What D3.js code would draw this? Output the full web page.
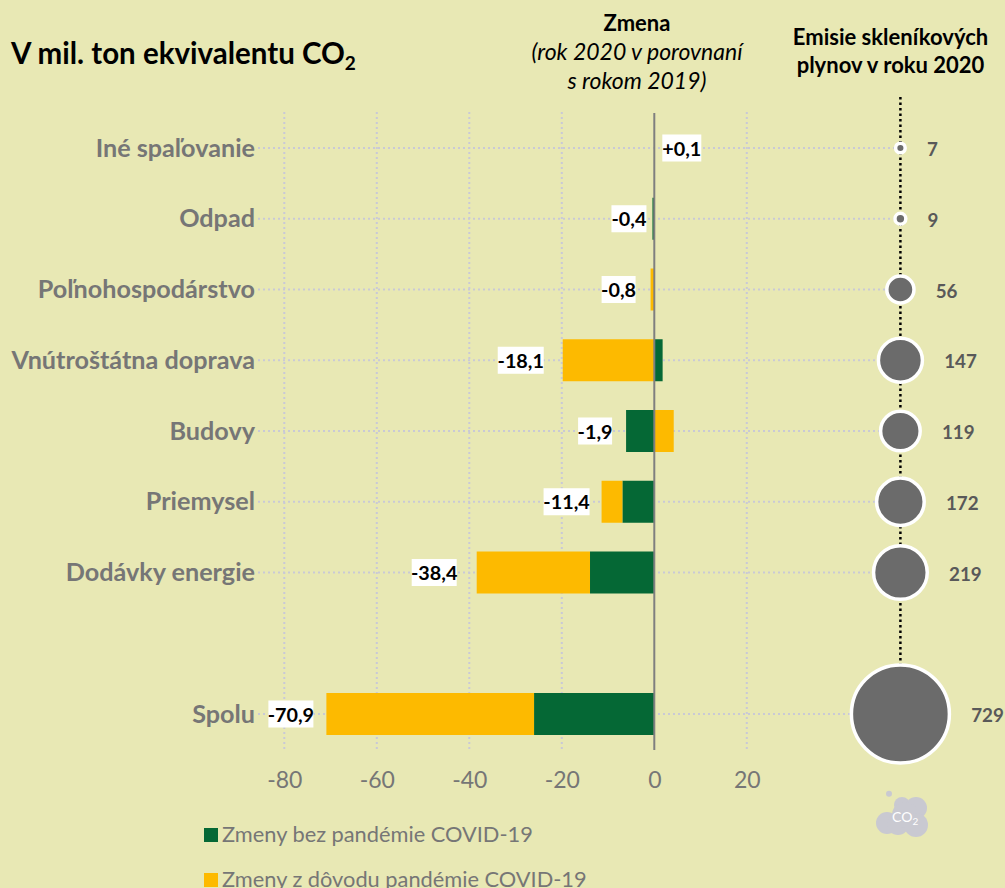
<!DOCTYPE html>
<html lang="sk">
<head>
<meta charset="utf-8">
<title>Emisie</title>
<script src="https://cdn.jsdelivr.net/npm/d3@7"></script>
<style>
    html, body { margin: 0; padding: 0; background: #e8e8b4; overflow: hidden; }
    svg { display: block; }
    text { font-family: Lato, "Open Sans", sans-serif; }
</style>
</head>
<body>
<div id="chart"></div>
<script>
// data
const categories = ["Iné spaľovanie", "Odpad", "Poľnohospodárstvo", "Vnútroštátna doprava", "Budovy", "Priemysel", "Dodávky energie", "Spolu"];
const withoutCovid = [0, -0.4, 0, 1.8, -6.1, -6.9, -13.9, -26.0];
const dueToCovid = [0.1, 0, -0.8, -19.8, 4.2, -4.5, -24.5, -44.9];
const changeLabels = ["+0,1", "-0,4", "-0,8", "-18,1", "-1,9", "-11,4", "-38,4", "-70,9"];
const emissions = [7, 9, 56, 147, 119, 172, 219, 729];
const xTicks = [-80, -60, -40, -20, 0, 20];
const legendLabels = ["Zmeny bez pandémie COVID-19", "Zmeny z dôvodu pandémie COVID-19"];

const width = 1005, height = 888;
const colors = { bg: "#e8e8b4", green: "#056835", yellow: "#fdba00", gray: "#767676", grid: "#c9c9d6", bubble: "#6b6b6b", cloud: "#c9c9d1" };

const svg = d3.select("#chart").append("svg")
    .attr("width", width)
    .attr("height", height);

svg.append("rect").attr("width", width).attr("height", height).attr("fill", colors.bg);

const x = d3.scaleLinear().domain([-80, 20]).range([284.3, 746.8]);

// blank slot before the total row
const rowDomain = [...categories.slice(0, 7), " ", categories[7]];
const y = d3.scalePoint().domain(rowDomain).range([148, 714]);

const bubbleX = 900.4;
const r = d3.scaleSqrt().domain([0, 729]).range([0, 49]);
const bubbleStroke = 3.5;

// gridlines
const grid = svg.append("g")
    .attr("stroke", colors.grid)
    .attr("stroke-width", 2)
    .attr("stroke-dasharray", "2 3");

grid.selectAll(".v")
    .data(xTicks.filter(d => d !== 0))
    .join("line")
    .attr("x1", d => x(d)).attr("x2", d => x(d))
    .attr("y1", 112).attr("y2", 750);

grid.selectAll(".h")
    .data(categories)
    .join("line")
    .attr("x1", 258).attr("x2", bubbleX)
    .attr("y1", d => y(d)).attr("y2", d => y(d));

// stacked bars
const rows = categories.map((c, i) => ({ category: c, without: withoutCovid[i], due: dueToCovid[i] }));
const stacked = d3.stack()
    .keys(["without", "due"])
    .offset(d3.stackOffsetDiverging)(rows);

const barHeight = 42;
svg.append("g")
    .selectAll("g")
    .data(stacked)
    .join("g")
    .attr("fill", d => d.key === "without" ? colors.green : colors.yellow)
    .selectAll("rect")
    .data(d => d)
    .join("rect")
    .attr("x", d => x(Math.min(d[0], d[1])))
    .attr("width", d => Math.abs(x(d[1]) - x(d[0])))
    .attr("y", d => y(d.data.category) - barHeight / 2)
    .attr("height", barHeight);

// zero line
svg.append("line")
    .attr("x1", x(0)).attr("x2", x(0))
    .attr("y1", 113).attr("y2", 750)
    .attr("stroke", "#7f7f7f")
    .attr("stroke-width", 2);

// x axis, only the labels are visible
const axis = svg.append("g")
    .attr("transform", "translate(0,769)")
    .call(d3.axisBottom(x).tickValues(xTicks).tickFormat(d => d).tickSize(0));
axis.select(".domain").remove();
axis.selectAll("text")
    .attr("fill", colors.gray)
    .style("font-size", "23px");

// category labels
svg.append("g")
    .selectAll("text")
    .data(categories)
    .join("text")
    .attr("x", 255)
    .attr("y", d => y(d) + 8.5)
    .attr("text-anchor", "end")
    .attr("fill", colors.gray)
    .attr("font-weight", 700)
    .attr("font-size", 25.2)
    .text(d => d);

// gap between the bar end and the white label, placed by hand in the original
const labelGap = [8, 6, 15, 19, 14, 12, 20, 13];
const labelBoxW = [39, 35, 34, 46, 34, 46, 45, 45];

const labels = svg.append("g")
    .selectAll("g")
    .data(rows)
    .join("g")
    .attr("transform", (d, i) => {
        const low = Math.min(0, d.without, d.due, d.without + d.due);
        const right = i === 0 ? x(0) + labelGap[i] + labelBoxW[i] : x(low) - labelGap[i];
        return `translate(${right - labelBoxW[i]},${y(d.category) - 13.5})`;
    });

labels.append("rect")
    .attr("width", (d, i) => labelBoxW[i])
    .attr("height", 27)
    .attr("fill", "#fff");

labels.append("text")
    .attr("x", (d, i) => labelBoxW[i] / 2)
    .attr("y", 21)
    .attr("text-anchor", "middle")
    .attr("font-weight", 700)
    .attr("font-size", 19.8)
    .attr("fill", "#000")
    .text((d, i) => changeLabels[i]);

// bubble column
svg.append("line")
    .attr("x1", bubbleX).attr("x2", bubbleX)
    .attr("y1", 97).attr("y2", 668)
    .attr("stroke", "#000")
    .attr("stroke-width", 2.5)
    .attr("stroke-dasharray", "2.5 3");

svg.append("g")
    .selectAll("circle")
    .data(emissions)
    .join("circle")
    .attr("cx", bubbleX)
    .attr("cy", (d, i) => y(categories[i]))
    .attr("r", d => r(d))
    .attr("fill", colors.bubble)
    .attr("stroke", "#fff")
    .attr("stroke-width", bubbleStroke);

svg.append("g")
    .selectAll("text")
    .data(emissions)
    .join("text")
    .attr("x", d => bubbleX + r(d) + bubbleStroke / 2 + 20)
    .attr("y", (d, i) => y(categories[i]) + 8)
    .attr("fill", "#595959")
    .attr("font-weight", 700)
    .attr("font-size", 18.8)
    .text(d => d);

// titles
const title = svg.append("text")
    .attr("x", 11).attr("y", 64)
    .attr("font-weight", 700)
    .attr("font-size", 29.5)
    .attr("fill", "#000");
title.append("tspan").text("V mil. ton ekvivalentu CO");
title.append("tspan").attr("dy", 6).attr("font-size", 19).text("2");

const zmena = svg.append("g").attr("text-anchor", "middle").attr("fill", "#000");
zmena.append("text").attr("x", 637).attr("y", 31).attr("font-weight", 700).attr("font-size", 22).text("Zmena");
zmena.append("text").attr("x", 637).attr("y", 60).attr("font-style", "italic").attr("font-size", 23).text("(rok 2020 v porovnaní");
zmena.append("text").attr("x", 637).attr("y", 89).attr("font-style", "italic").attr("font-size", 23).text("s rokom 2019)");

const emisie = svg.append("g").attr("text-anchor", "middle").attr("fill", "#000").attr("font-weight", 700).attr("font-size", 22);
emisie.append("text").attr("x", 890.5).attr("y", 45).text("Emisie skleníkových");
emisie.append("text").attr("x", 890.5).attr("y", 73).text("plynov v roku 2020");

// legend
const legend = svg.append("g")
    .selectAll("g")
    .data(legendLabels)
    .join("g")
    .attr("transform", (d, i) => `translate(204,${828 + i * 45})`);
legend.append("rect")
    .attr("width", 14).attr("height", 14)
    .attr("fill", (d, i) => i === 0 ? colors.green : colors.yellow);
legend.append("text")
    .attr("x", 18).attr("y", 14)
    .attr("fill", colors.gray)
    .attr("font-size", 21.8)
    .text(d => d);

// CO2 cloud icon
const cloud = svg.append("g").attr("fill", colors.cloud);
[[889, 793.7, 3], [902, 805, 8], [916, 808, 11], [887, 823, 11], [898, 824, 11], [905, 815, 13], [916, 825, 12]]
    .forEach(c => cloud.append("circle").attr("cx", c[0]).attr("cy", c[1]).attr("r", c[2]));
const co2 = svg.append("text")
    .attr("x", 892).attr("y", 822)
    .attr("fill", "#fff")
    .attr("font-size", 14);
co2.append("tspan").text("CO");
co2.append("tspan").attr("dy", 3).attr("font-size", 10).text("2");
</script>
</body>
</html>
